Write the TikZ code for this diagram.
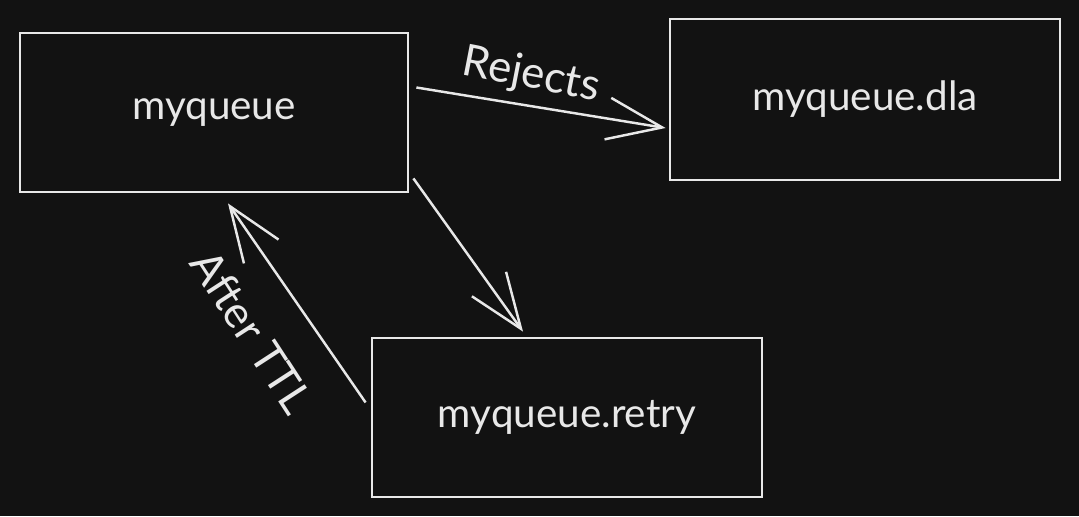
\documentclass[tikz,border=0pt]{standalone}
\usepackage{fontspec}
\setmainfont{Lato}
\usetikzlibrary{arrows.meta}
\definecolor{bgdark}{HTML}{121212}
\definecolor{chalk}{HTML}{E8E8E8}
\tikzset{
	queuebox/.style={draw=chalk, line width=0.8pt, minimum width=3.88cm, minimum height=1.59cm, text=chalk, font=\fontsize{11.5}{14}\selectfont},
	flow/.style={draw=chalk, line width=0.7pt, -{Straight Barb[length=5.5mm, width=4.2mm, line width=0.7pt]}},
	flowlabel/.style={text=chalk, font=\fontsize{12.5}{15}\selectfont}
}
\begin{document}
\begin{tikzpicture}
			\fill[bgdark] (0,0) rectangle (10.79,5.16);
			\node[queuebox] (q) at (2.14,4.035) {myqueue};
			\node[queuebox, minimum width=3.90cm, minimum height=1.61cm] (d) at (8.65,4.165) {myqueue.dla};
			\node[queuebox, minimum width=3.90cm] (r) at (5.67,0.985) {myqueue.retry};

			\draw[flow] ([xshift=0.7mm,yshift=2.5mm]q.east) -- ([xshift=-0.3mm,yshift=-2.85mm]d.west);
			\draw[flow] ([xshift=0.4mm,yshift=1.5mm]q.south east) -- ([xshift=-4.4mm,yshift=0.5mm]r.north);
			\draw[flow] ([xshift=-0.5mm,yshift=1.5mm]r.west) -- ([xshift=1.4mm,yshift=-1mm]q.south);

			\node[flowlabel, rotate=-11] (rej) at (5.31,4.40) {Rejects};
			\node[flowlabel, rotate=-57] (ttl) at (2.52,1.84) {After TTL};
			\end{tikzpicture}
\end{document}
